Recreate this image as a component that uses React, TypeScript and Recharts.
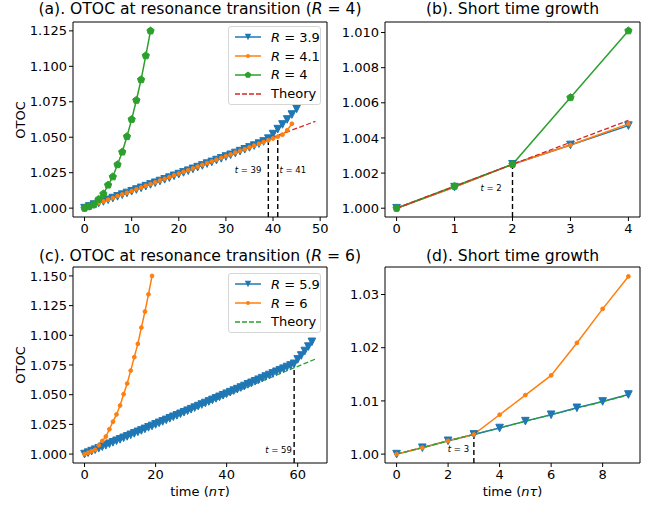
import React from "react";
import {
  LineChart,
  Line,
  XAxis,
  YAxis,
  ReferenceLine,
  ReferenceArea,
  ReferenceDot,
} from "recharts";

const BLUE = "#1f77b4";
const ORANGE = "#ff7f0e";
const GREEN = "#2ca02c";
const RED = "#d62728";
const FONT = "'DejaVu Sans', sans-serif";

// OTOC, R around 4 (t = 0, 1, 2, ...)
const r39 = [
  1.0, 1.0012, 1.0025, 1.0036, 1.0047, 1.0059, 1.0071, 1.0083, 1.0095, 1.0107,
  1.0119, 1.0131, 1.0143, 1.0155, 1.0167, 1.0179, 1.0191, 1.0203, 1.0215, 1.0228,
  1.024, 1.0252, 1.0264, 1.0277, 1.0289, 1.0301, 1.0314, 1.0326, 1.0339, 1.0351,
  1.0364, 1.0376, 1.0389, 1.0402, 1.0415, 1.0428, 1.0441, 1.0455, 1.047, 1.049,
  1.0522, 1.0557, 1.059, 1.0625, 1.066, 1.07,
];
const r41 = [
  1.0, 1.0012, 1.0025, 1.0036, 1.0048, 1.006, 1.0072, 1.0085, 1.0097, 1.0109,
  1.0121, 1.0133, 1.0146, 1.0158, 1.017, 1.0182, 1.0195, 1.0207, 1.0219, 1.0232,
  1.0244, 1.0256, 1.0268, 1.0281, 1.0293, 1.0305, 1.0318, 1.033, 1.0342, 1.0355,
  1.0367, 1.0379, 1.0392, 1.0404, 1.0416, 1.0429, 1.0441, 1.0454, 1.0466, 1.0479,
  1.0491, 1.0504, 1.0518, 1.0549, 1.0595,
];
const r4 = [
  1.0, 1.00125, 1.0025, 1.0063, 1.0101, 1.0163, 1.0221, 1.0307, 1.0396, 1.0505,
  1.0626, 1.0761, 1.0906, 1.1075, 1.125,
];
const theoryTA = [0, 49];
const theoryA = [1.0, 1.06125];
const theoryTB = [0, 4];
const theoryB = [1.0, 1.005];

// OTOC, R around 6
const r59 = [
  1.0, 1.0012, 1.0025, 1.0037, 1.0049, 1.0062, 1.0074, 1.0087, 1.0099, 1.0112,
  1.0124, 1.0137, 1.0149, 1.0162, 1.0174, 1.0187, 1.0199, 1.0212, 1.0225, 1.0237,
  1.025, 1.0263, 1.0275, 1.0288, 1.0301, 1.0314, 1.0326, 1.0339, 1.0352, 1.0365,
  1.0378, 1.0391, 1.0404, 1.0417, 1.043, 1.0443, 1.0456, 1.0469, 1.0482, 1.0495,
  1.0508, 1.0521, 1.0534, 1.0547, 1.056, 1.0573, 1.0587, 1.06, 1.0613, 1.0626,
  1.0639, 1.0653, 1.0666, 1.0679, 1.0693, 1.0706, 1.0719, 1.0733, 1.0746, 1.076,
  1.0797, 1.083, 1.0868, 1.0905, 1.0945,
];
const r6 = [
  1.0, 1.0012, 1.0025, 1.0037, 1.0074, 1.0111, 1.0148, 1.0209, 1.0273, 1.0334,
  1.0409, 1.0504, 1.0594, 1.0703, 1.0816, 1.0928, 1.1065, 1.12, 1.1345, 1.15,
];
const theoryTC = [0, 65];
const theoryC = [1.0, 1.08];
const theoryTD = [0, 9];
const theoryD = [1.0, 1.0111];

const pts = (ys: number[], n = ys.length) =>
  ys.slice(0, n).map((y, i) => ({ x: i, y }));
const pairs = (xs: number[], ys: number[]) => xs.map((x, i) => ({ x, y: ys[i] }));

// markers
const triPath = (cx: number, cy: number, r: number) =>
  `M${cx - r},${cy - r}L${cx + r},${cy - r}L${cx},${cy + r}Z`;
const pentPath = (cx: number, cy: number, r: number) => {
  const p = [0, 1, 2, 3, 4].map((k) => {
    const a = ((-90 + k * 72) * Math.PI) / 180;
    return `${cx + r * Math.cos(a)},${cy + r * Math.sin(a)}`;
  });
  return `M${p.join("L")}Z`;
};

const triDot = (p: any) =>
  p.cx == null ? null : (
    <path key={`tri-${p.index}`} d={triPath(p.cx, p.cy, 3.8)} fill={BLUE} stroke={BLUE} strokeWidth={1} />
  );
const pointDot = (p: any) =>
  p.cx == null ? null : (
    <circle key={`pt-${p.index}`} cx={p.cx} cy={p.cy} r={1.9} fill={ORANGE} stroke={ORANGE} strokeWidth={1} />
  );
const pentDot = (p: any) =>
  p.cx == null ? null : (
    <path key={`pe-${p.index}`} d={pentPath(p.cx, p.cy, 3.8)} fill={GREEN} stroke={GREEN} strokeWidth={1} />
  );

function TLabel(props: any) {
  const vb = props.viewBox || { x: 0, y: 0, width: 0, height: 0 };
  return (
    <text
      x={vb.x + (vb.width || 0) / 2}
      y={vb.y + (vb.height || 0) / 2}
      textAnchor="middle"
      dominantBaseline="central"
      fontSize={8.5}
      fill="#000"
      fontFamily={FONT}
    >
      <tspan fontStyle="italic">t</tspan>
      {` = ${props.text}`}
    </text>
  );
}

const axisTick = { fontSize: 13, fill: "#000", fontFamily: FONT };

function axes(xDomain: number[], xTicks: number[], yDomain: number[], yTicks: number[], digits: number, yWidth: number, xHeight: number) {
  return [
    <XAxis
      key="x"
      type="number"
      dataKey="x"
      domain={xDomain}
      ticks={xTicks}
      allowDataOverflow
      interval={0}
      height={xHeight}
      axisLine={false}
      tickLine={{ stroke: "#000" }}
      tickSize={4}
      tickMargin={3}
      tick={axisTick}
    />,
    <YAxis
      key="y"
      type="number"
      dataKey="y"
      domain={yDomain}
      ticks={yTicks}
      allowDataOverflow
      interval={0}
      width={yWidth}
      axisLine={false}
      tickLine={{ stroke: "#000" }}
      tickSize={4}
      tickMargin={2}
      tick={axisTick}
      tickFormatter={(v: number) => v.toFixed(digits)}
    />,
  ];
}

const frame = (xd: number[], yd: number[]) => (
  <ReferenceArea
    key="frame"
    x1={xd[0]}
    x2={xd[1]}
    y1={yd[0]}
    y2={yd[1]}
    fill="none"
    fillOpacity={0}
    stroke="#000"
    strokeWidth={1}
    ifOverflow="visible"
  />
);

const vline = (x: number, y0: number, y1: number) => (
  <ReferenceLine
    key={`v-${x}`}
    segment={[{ x, y: y0 }, { x, y: y1 }]}
    stroke="#000"
    strokeWidth={1.4}
    strokeDasharray="5 3"
  />
);

const note = (x: number, y: number, text: string) => (
  <ReferenceDot key={`n-${text}`} x={x} y={y} r={0} fill="none" stroke="none" label={<TLabel text={text} />} />
);

function LegendBox({ left, top, items }: { left: number; top: number; items: any[] }) {
  return (
    <div
      style={{
        position: "absolute",
        left,
        top,
        width: 91,
        padding: "1px 0",
        border: "1px solid #d6d6d6",
        borderRadius: 3,
        background: "rgba(255,255,255,0.85)",
        fontFamily: FONT,
        fontSize: 13,
        color: "#000",
      }}
    >
      {items.map((it, i) => (
        <div key={i} style={{ height: 18.8, display: "flex", alignItems: "center" }}>
          <svg width={26} height={12} style={{ marginLeft: 6, marginRight: 10, overflow: "visible" }}>
            <line x1={0} y1={6} x2={26} y2={6} stroke={it.color} strokeWidth={it.dashed ? 1.3 : 1.5} strokeDasharray={it.dashed ? "5 2" : undefined} />
            {it.marker === "tri" && <path d={triPath(13, 6, 3.2)} fill={it.color} />}
            {it.marker === "pt" && <circle cx={13} cy={6} r={2} fill={it.color} />}
            {it.marker === "pent" && <path d={pentPath(13, 6, 3.5)} fill={it.color} />}
          </svg>
          <span style={{ whiteSpace: "nowrap" }}>{it.label}</span>
        </div>
      ))}
    </div>
  );
}

const Rl = (v: string) => (
  <>
    <i>R</i> = {v}
  </>
);

function Text({ x, y, size, rotate, children }: any) {
  return (
    <div
      style={{
        position: "absolute",
        left: x,
        top: y,
        transform: `translate(-50%, -50%)${rotate ? " rotate(-90deg)" : ""}`,
        whiteSpace: "nowrap",
        fontFamily: FONT,
        fontSize: size,
        color: "#000",
        lineHeight: 1,
      }}
    >
      {children}
    </div>
  );
}

const xdA = [-2.45, 51.45];
const ydA = [0.99375, 1.13125];
const xdB = [-0.2, 4.2];
const ydB = [0.9995, 1.0106];
const xdC = [-3.25, 68.25];
const ydC = [0.9925, 1.1575];
const xdD = [-0.45, 9.45];
const ydD = [0.99833, 1.03517];

export default function App() {
  const line = (key: string, data: any[], color: string, dot: any, dashed = false) => (
    <Line
      key={key}
      data={data}
      dataKey="y"
      type="linear"
      stroke={color}
      strokeWidth={dashed ? 1.3 : 1.5}
      strokeDasharray={dashed ? "5 2.4" : undefined}
      dot={dot}
      activeDot={false}
      isAnimationActive={false}
    />
  );

  return (
    <div style={{ position: "absolute", left: 0, top: 0, width: 660, height: 506, background: "#fff", fontFamily: FONT }}>
      {/* (a) */}
      <div style={{ position: "absolute", left: 0, top: 0 }}>
        <LineChart width={330} height={250} margin={{ top: 22, right: 3, bottom: 0, left: 0 }}>
          {axes(xdA, [0, 10, 20, 30, 40, 50], ydA, [1.0, 1.025, 1.05, 1.075, 1.1, 1.125], 3, 73, 33)}
          {line("a39", pts(r39), BLUE, triDot)}
          {line("a41", pts(r41), ORANGE, pointDot)}
          {line("a4", pts(r4), GREEN, pentDot)}
          {line("aT", pairs(theoryTA, theoryA), RED, false, true)}
          {vline(39, ydA[0], 1.0487)}
          {vline(41, ydA[0], 1.0505)}
          {note(34.7, 1.0267, "39")}
          {note(44.2, 1.0267, "41")}
          {frame(xdA, ydA)}
        </LineChart>
      </div>
      {/* (b) */}
      <div style={{ position: "absolute", left: 330, top: 0 }}>
        <LineChart width={330} height={250} margin={{ top: 22, right: 20, bottom: 0, left: 0 }}>
          {axes(xdB, [0, 1, 2, 3, 4], ydB, [1.0, 1.002, 1.004, 1.006, 1.008, 1.01], 3, 55, 33)}
          {line("b39", pts(r39, 5), BLUE, triDot)}
          {line("b41", pts(r41, 5), ORANGE, pointDot)}
          {line("b4", pts(r4, 5), GREEN, pentDot)}
          {line("bT", pairs(theoryTB, theoryB), RED, false, true)}
          {vline(2, ydB[0], 1.00275)}
          {note(1.63, 1.00116, "2")}
          {frame(xdB, ydB)}
        </LineChart>
      </div>
      {/* (c) */}
      <div style={{ position: "absolute", left: 0, top: 250 }}>
        <LineChart width={330} height={256} margin={{ top: 17, right: 3, bottom: 0, left: 0 }}>
          {axes(xdC, [0, 20, 40, 60], ydC, [1.0, 1.025, 1.05, 1.075, 1.1, 1.125, 1.15], 3, 73, 43)}
          {line("c59", pts(r59), BLUE, triDot)}
          {line("c6", pts(r6), ORANGE, pointDot)}
          {line("cT", pairs(theoryTC, theoryC), GREEN, false, true)}
          {vline(59, ydC[0], 1.0745)}
          {note(54.6, 1.0036, "59")}
          {frame(xdC, ydC)}
        </LineChart>
      </div>
      {/* (d) */}
      <div style={{ position: "absolute", left: 330, top: 250 }}>
        <LineChart width={330} height={256} margin={{ top: 17, right: 20, bottom: 0, left: 0 }}>
          {axes(xdD, [0, 2, 4, 6, 8], ydD, [1.0, 1.01, 1.02, 1.03], 2, 55, 43)}
          {line("d59", pts(r59, 10), BLUE, triDot)}
          {line("d6", pts(r6, 10), ORANGE, pointDot)}
          {line("dT", pairs(theoryTD, theoryD), GREEN, false, true)}
          {vline(3, ydD[0], 1.0037)}
          {note(2.4, 1.001, "3")}
          {frame(xdD, ydD)}
        </LineChart>
      </div>

      <LegendBox
        left={228}
        top={26}
        items={[
          { color: BLUE, marker: "tri", label: Rl("3.9") },
          { color: ORANGE, marker: "pt", label: Rl("4.1") },
          { color: GREEN, marker: "pent", label: Rl("4") },
          { color: RED, dashed: true, label: "Theory" },
        ]}
      />
      <LegendBox
        left={228}
        top={273}
        items={[
          { color: BLUE, marker: "tri", label: Rl("5.9") },
          { color: ORANGE, marker: "pt", label: Rl("6") },
          { color: GREEN, dashed: true, label: "Theory" },
        ]}
      />

      <Text x={200} y={10} size={15.6}>
        (a). OTOC at resonance transition (<i>R</i> = 4)
      </Text>
      <Text x={512.5} y={10} size={15.6}>
        (b). Short time growth
      </Text>
      <Text x={200} y={257} size={15.6}>
        (c). OTOC at resonance transition (<i>R</i> = 6)
      </Text>
      <Text x={512.5} y={257} size={15.6}>
        (d). Short time growth
      </Text>
      <Text x={20} y={119.5} size={13} rotate>
        OTOC
      </Text>
      <Text x={20} y={365} size={13} rotate>
        OTOC
      </Text>
      <Text x={200} y={490.5} size={13}>
        time (<i>nτ</i>)
      </Text>
      <Text x={512.5} y={490.5} size={13}>
        time (<i>nτ</i>)
      </Text>
    </div>
  );
}
